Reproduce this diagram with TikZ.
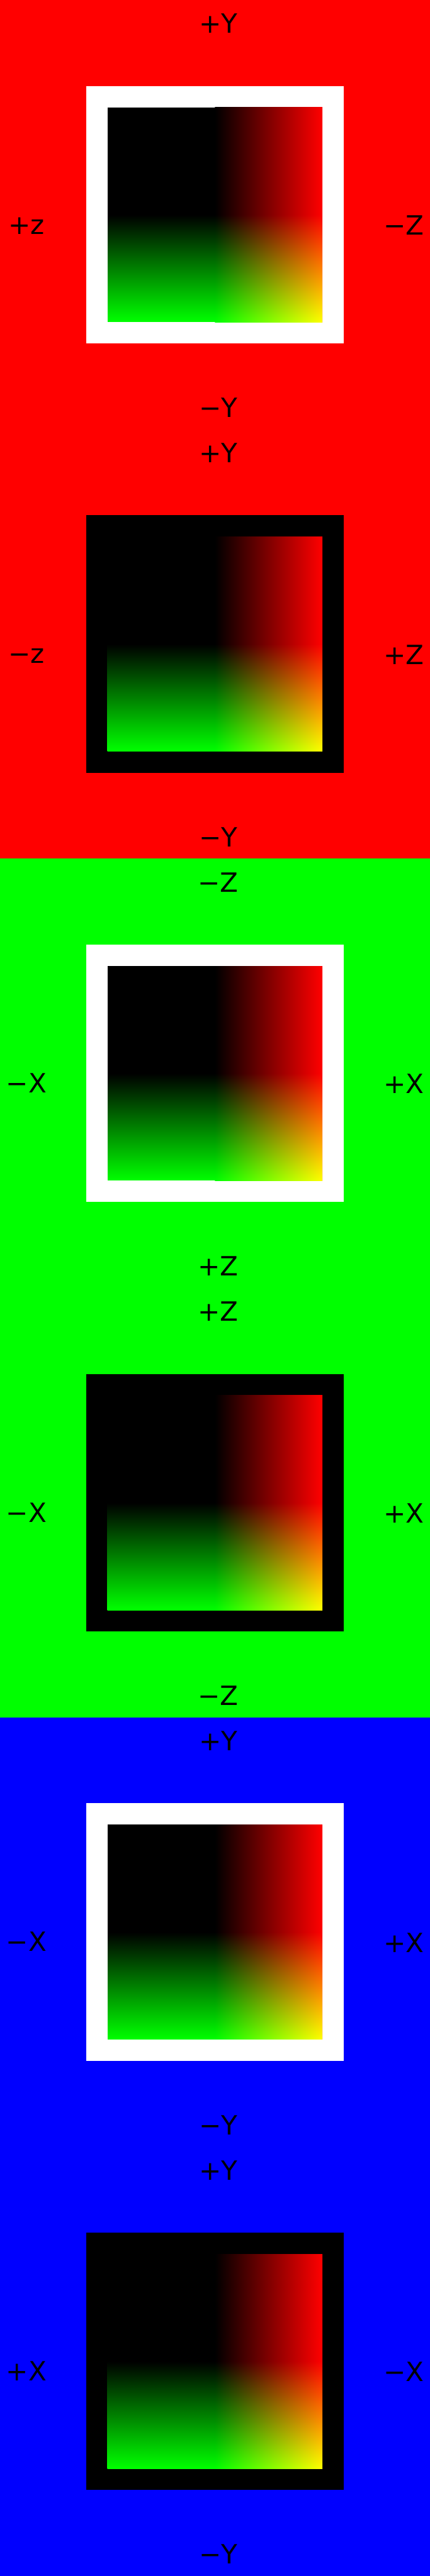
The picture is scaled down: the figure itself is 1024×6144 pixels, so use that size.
\documentclass[tikz,border=0pt]{standalone}
\usepackage{fontspec}
\setmainfont{DejaVu Sans}
\usepackage{xcolor}
\usepackage{tikz}
\usetikzlibrary{positioning}

\tikzset{
  etichetta/.style={anchor=base, inner sep=0pt, font=\fontsize{18pt}{20pt}\selectfont},
  sfumatura/.pic={
    \fill[black] (0,0) rectangle (512,512);
    \shade[left color=black, right color=red] (256,0) rectangle (512,512);
    \shade[top color=black, bottom color=green, blend mode=screen] (0,256) rectangle (512,512);
  }
}

\begin{document}
\begin{tikzpicture}[x=0.1mm, y=-0.1mm]
    \useasboundingbox (0,0) rectangle (1024,6144);

    % Faccia 1
    \fill[red] (0,0) rectangle (1024,1024);
    \fill[white] (205,205) rectangle (819,819);
    \pic at (256,256) {sfumatura};
    \node[etichetta] (su1) at (520,79) {+Y};
    \node[etichetta] (giu1) at (520,995) {−Y};
    \node[etichetta] (sx1) at (63,558) {+z};
    \node[etichetta] (dx1) at (962,560) {−Z};

    % Faccia 2
    \fill[red] (0,1024) rectangle (1024,2048);
    \fill[black] (205,1229) rectangle (819,1843);
    \pic at (256,1280) {sfumatura};
    \node[etichetta] (su2) at (520,1103) {+Y};
    \node[etichetta] (giu2) at (520,2019) {−Y};
    \node[etichetta] (sx2) at (63,1582) {−z};
    \node[etichetta] (dx2) at (962,1584) {+Z};

    % Faccia 3
    \fill[green] (0,2048) rectangle (1024,3072);
    \fill[white] (205,2253) rectangle (819,2867);
    \pic at (256,2304) {sfumatura};
    \node[etichetta] (su3) at (520,2127) {−Z};
    \node[etichetta] (giu3) at (520,3043) {+Z};
    \node[etichetta] (sx3) at (63,2606) {−X};
    \node[etichetta] (dx3) at (962,2608) {+X};

    % Faccia 4
    \fill[green] (0,3072) rectangle (1024,4096);
    \fill[black] (205,3277) rectangle (819,3891);
    \pic at (256,3328) {sfumatura};
    \node[etichetta] (su4) at (520,3151) {+Z};
    \node[etichetta] (giu4) at (520,4067) {−Z};
    \node[etichetta] (sx4) at (63,3630) {−X};
    \node[etichetta] (dx4) at (962,3632) {+X};

    % Faccia 5
    \fill[blue] (0,4096) rectangle (1024,5120);
    \fill[white] (205,4301) rectangle (819,4915);
    \pic at (256,4352) {sfumatura};
    \node[etichetta] (su5) at (520,4175) {+Y};
    \node[etichetta] (giu5) at (520,5091) {−Y};
    \node[etichetta] (sx5) at (63,4654) {−X};
    \node[etichetta] (dx5) at (962,4656) {+X};

    % Faccia 6
    \fill[blue] (0,5120) rectangle (1024,6144);
    \fill[black] (205,5325) rectangle (819,5939);
    \pic at (256,5376) {sfumatura};
    \node[etichetta] (su6) at (520,5199) {+Y};
    \node[etichetta] (giu6) at (520,6115) {−Y};
    \node[etichetta] (sx6) at (63,5678) {+X};
    \node[etichetta] (dx6) at (962,5680) {−X};
\end{tikzpicture}
\end{document}
